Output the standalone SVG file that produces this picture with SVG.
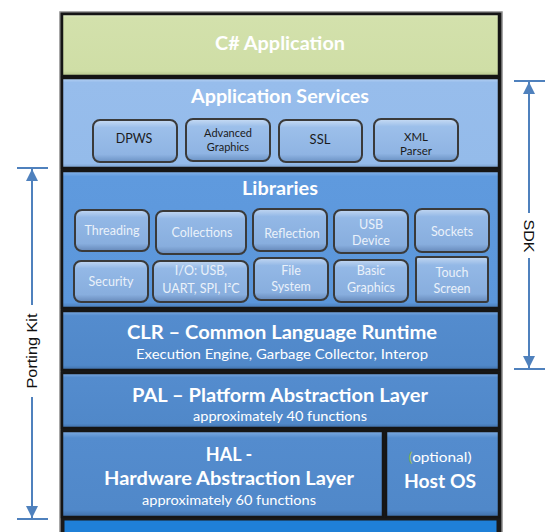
<svg xmlns="http://www.w3.org/2000/svg" width="549" height="532" viewBox="0 0 549 532">
<defs>
<linearGradient id="gGreen" x1="0" y1="0" x2="0" y2="1">
<stop offset="0" stop-color="#e6eecf"/><stop offset="0.06" stop-color="#d3e1ac"/><stop offset="0.92" stop-color="#cfdea6"/><stop offset="1" stop-color="#b4c58a"/>
</linearGradient>
<linearGradient id="gSvc" x1="0" y1="0" x2="0" y2="1">
<stop offset="0" stop-color="#b9d3f3"/><stop offset="0.05" stop-color="#97bdec"/><stop offset="0.95" stop-color="#94bbea"/><stop offset="1" stop-color="#7a9fcb"/>
</linearGradient>
<linearGradient id="gLib" x1="0" y1="0" x2="0" y2="1">
<stop offset="0" stop-color="#8ab6ea"/><stop offset="0.04" stop-color="#5f9ade"/><stop offset="0.96" stop-color="#5b96da"/><stop offset="1" stop-color="#4a7ab3"/>
</linearGradient>
<linearGradient id="gMid" x1="0" y1="0" x2="0" y2="1">
<stop offset="0" stop-color="#80ade2"/><stop offset="0.08" stop-color="#548cce"/><stop offset="0.92" stop-color="#5088c9"/><stop offset="1" stop-color="#3f6ea6"/>
</linearGradient>
<linearGradient id="gBtn" x1="0" y1="0" x2="0" y2="1">
<stop offset="0" stop-color="#c8dcf4"/><stop offset="0.18" stop-color="#9cbfea"/><stop offset="0.82" stop-color="#8fb4e3"/><stop offset="1" stop-color="#6b92c4"/>
</linearGradient>
<linearGradient id="gBtn2" x1="0" y1="0" x2="0" y2="1">
<stop offset="0" stop-color="#c2d7f2"/><stop offset="0.18" stop-color="#93b8e6"/><stop offset="0.82" stop-color="#88aede"/><stop offset="1" stop-color="#6689ba"/>
</linearGradient>
<marker id="arr" viewBox="0 0 10 10" refX="10" refY="5" markerWidth="6" markerHeight="6" orient="auto" markerUnits="strokeWidth">
<path d="M0,0 L10,5 L0,10 z" fill="#4f81bd"/>
</marker>
<style>
.band{stroke:#151515;stroke-width:2.5}
.btn{fill:url(#gBtn);stroke:#3a3a3a;stroke-width:2}
.btn2{fill:url(#gBtn2);stroke:#3a3a3a;stroke-width:2}
.t{font-family:Lato,"Open Sans","Liberation Sans",sans-serif;fill:#ffffff;text-anchor:middle}
.title{font-size:18px;font-weight:bold}
.sub{font-size:13.5px}
.bt{font-family:Lato,"Open Sans","Liberation Sans",sans-serif;font-size:12.5px;fill:#1b1b1b;text-anchor:middle}
.lt{font-family:Lato,"Open Sans","Liberation Sans",sans-serif;font-size:12.5px;fill:#eaf1fa;text-anchor:middle}
.dim{stroke:#4f81bd;stroke-width:2;fill:none}
.dl{font-family:"Liberation Sans",Arial,sans-serif;font-size:14px;fill:#111;text-anchor:middle}
</style>
</defs>

<rect x="60" y="12" width="442" height="522" fill="#1a1a1a" stroke="#8a8a8a" stroke-width="1.5"/>

<g id="csharp-app">
<rect class="band" x="62" y="14" width="437" height="62" fill="url(#gGreen)"/>
<text class="t title" x="280" y="50" textLength="130" lengthAdjust="spacingAndGlyphs">C# Application</text>
</g>

<g id="app-services">
<rect class="band" x="62" y="78" width="437" height="90" fill="url(#gSvc)"/>
<text class="t title" x="280" y="103" textLength="178" lengthAdjust="spacingAndGlyphs">Application Services</text>
</g>
<g id="dpws"><rect class="btn" x="93" y="120" width="84" height="42" rx="7"/><text class="bt" x="134" y="143" font-size="13">DPWS</text></g>
<g id="adv-graphics"><rect class="btn" x="186" y="119" width="84" height="42" rx="7"/><text class="bt" x="228" y="137" style="font-size:11px">Advanced</text><text class="bt" x="228" y="151" style="font-size:11px">Graphics</text></g>
<g id="ssl"><rect class="btn" x="279" y="120" width="83" height="42" rx="7"/><text class="bt" x="320" y="144" style="font-size:13px">SSL</text></g>
<g id="xml-parser"><rect class="btn" x="374" y="119" width="84" height="42" rx="7"/><text class="bt" x="416" y="141" style="font-size:11.5px">XML</text><text class="bt" x="416" y="155" style="font-size:11.5px">Parser</text></g>

<g id="libraries">
<rect class="band" x="62" y="171" width="437" height="137" fill="url(#gLib)"/>
<text class="t title" x="280" y="195" textLength="76" lengthAdjust="spacingAndGlyphs">Libraries</text>
</g>
<g id="threading"><rect class="btn2" x="75" y="210" width="74" height="41" rx="7"/><text class="lt" x="112" y="235">Threading</text></g>
<g id="collections"><rect class="btn2" x="156" y="211" width="90" height="43" rx="7"/><text class="lt" x="202" y="237">Collections</text></g>
<g id="reflection"><rect class="btn2" x="253" y="209" width="74" height="42" rx="7"/><text class="lt" x="292" y="238">Reflection</text></g>
<g id="usb-device"><rect class="btn2" x="334" y="210" width="74" height="43" rx="7"/><text class="lt" x="371" y="229">USB</text><text class="lt" x="371" y="245">Device</text></g>
<g id="sockets"><rect class="btn2" x="415" y="209" width="74" height="43" rx="7"/><text class="lt" x="452" y="236">Sockets</text></g>
<g id="security"><rect class="btn2" x="74" y="261" width="74" height="41" rx="7"/><text class="lt" x="111" y="286">Security</text></g>
<g id="io"><rect class="btn2" x="153" y="261" width="95" height="41" rx="7"/><text class="lt" x="201" y="275">I/O: USB,</text><text class="lt" x="201" y="293">UART, SPI, I²C</text></g>
<g id="file-system"><rect class="btn2" x="254" y="258" width="74" height="42" rx="7"/><text class="lt" x="291" y="275">File</text><text class="lt" x="291" y="291">System</text></g>
<g id="basic-graphics"><rect class="btn2" x="334" y="260" width="74" height="42" rx="7"/><text class="lt" x="371" y="275">Basic</text><text class="lt" x="371" y="292">Graphics</text></g>
<g id="touch-screen"><rect class="btn2" x="416" y="257" width="72" height="45" rx="2"/><text class="lt" x="452" y="277">Touch</text><text class="lt" x="452" y="293">Screen</text></g>

<g id="clr">
<rect class="band" x="62" y="311" width="437" height="59" fill="url(#gMid)"/>
<text class="t title" x="282" y="339" textLength="310" lengthAdjust="spacingAndGlyphs">CLR – Common Language Runtime</text>
<text class="t sub" x="282" y="359" textLength="292" lengthAdjust="spacingAndGlyphs">Execution Engine, Garbage Collector,  Interop</text>
</g>

<g id="pal">
<rect class="band" x="62" y="373" width="437" height="55" fill="url(#gMid)"/>
<text class="t title" x="280" y="402" textLength="296" lengthAdjust="spacingAndGlyphs">PAL – Platform Abstraction Layer</text>
<text class="t sub" x="280" y="421" textLength="174" lengthAdjust="spacingAndGlyphs">approximately 40 functions</text>
</g>

<g id="hal">
<rect class="band" x="62" y="431" width="321" height="86" fill="url(#gMid)"/>
<text class="t title" x="229" y="461">HAL -</text>
<text class="t title" x="229" y="485" textLength="250" lengthAdjust="spacingAndGlyphs">Hardware Abstraction Layer</text>
<text class="t sub" x="229" y="505" textLength="174" lengthAdjust="spacingAndGlyphs">approximately 60 functions</text>
</g>

<g id="host-os">
<rect class="band" x="386" y="431" width="113" height="86" fill="url(#gMid)"/>
<text class="t sub" x="440" y="462" textLength="63" lengthAdjust="spacingAndGlyphs"><tspan fill="#9bbb59">(</tspan>optional)</text>
<text class="t title" x="440" y="488" textLength="72" lengthAdjust="spacingAndGlyphs">Host OS</text>
</g>

<g id="hardware-band">
<rect x="64" y="520" width="433" height="14" fill="#1f80d8" stroke="#1a1a1a" stroke-width="1"/>
</g>

<g id="connectors">
<line class="dim" x1="17" y1="168" x2="48" y2="168"/>
<line class="dim" x1="17" y1="519" x2="48" y2="519"/>
<line class="dim" x1="32" y1="305" x2="32" y2="169" marker-end="url(#arr)"/>
<line class="dim" x1="32" y1="397" x2="32" y2="518" marker-end="url(#arr)"/>
<line class="dim" x1="514" y1="81" x2="545" y2="81"/>
<line class="dim" x1="514" y1="369" x2="545" y2="369"/>
<line class="dim" x1="529" y1="213" x2="529" y2="82" marker-end="url(#arr)"/>
<line class="dim" x1="529" y1="258" x2="529" y2="368" marker-end="url(#arr)"/>
</g>
<g id="labels">
<text class="dl" transform="translate(37,351) rotate(-90)" textLength="75" lengthAdjust="spacingAndGlyphs">Porting Kit</text>
<text class="dl" transform="translate(524,236) rotate(90)" textLength="33" lengthAdjust="spacingAndGlyphs">SDK</text>
</g>
</svg>
